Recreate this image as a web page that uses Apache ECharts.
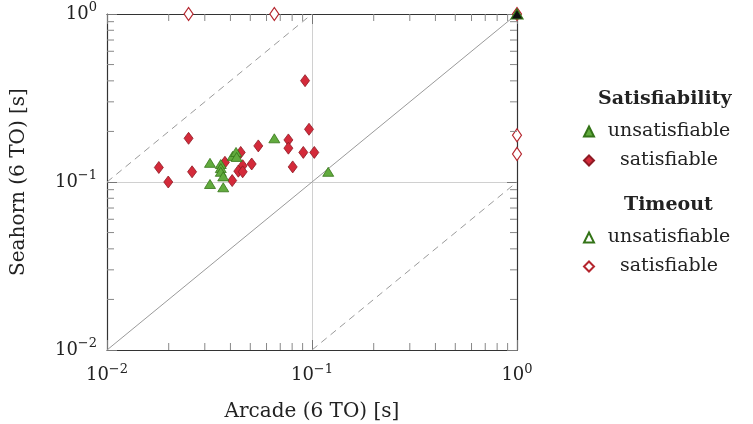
<!DOCTYPE html>
<html>
<head>
<meta charset="utf-8">
<script src="https://cdn.jsdelivr.net/npm/echarts@6/dist/echarts.min.js"></script>
<style>
html, body { margin: 0; padding: 0; background: #fff; }
#chart { width: 753px; height: 424px; }
</style>
</head>
<body>
<div id="chart"></div>
<script>
// solved instances
var unsatX = [0.0655, 0.0318, 0.0359, 0.0359, 0.0359, 0.0369, 0.0318, 0.0369, 0.0410, 0.0426, 0.0429, 0.120];
var unsatY = [0.182, 0.130, 0.128, 0.121, 0.115, 0.108, 0.0973, 0.093, 0.143, 0.151, 0.141, 0.115];
var satX = [0.0250, 0.0925, 0.0967, 0.0767, 0.0767, 0.0907, 0.1026, 0.0805, 0.0547, 0.0508, 0.0449, 0.0459, 0.0437, 0.0459, 0.0376, 0.0408, 0.0179, 0.0199, 0.0260];
var satY = [0.182, 0.401, 0.206, 0.178, 0.159, 0.150, 0.150, 0.123, 0.164, 0.128, 0.150, 0.125, 0.116, 0.115, 0.131, 0.102, 0.122, 0.100, 0.115];
// timeouts
var toSatX = [0.0250, 0.0655, 1, 1, 1];
var toSatY = [1, 1, 0.190, 0.147, 1];
var toUnsatX = [1];
var toUnsatY = [1];
// reference lines
var diagX = [0.01, 1];
var diagY = [0.01, 1];
var upperX = [0.01, 0.1];
var upperY = [0.1, 1];
var lowerX = [0.1, 1];
var lowerY = [0.01, 0.1];
// minor tick values
var minorTicks = [0.02, 0.03, 0.04, 0.05, 0.06, 0.07, 0.08, 0.09, 0.2, 0.3, 0.4, 0.5, 0.6, 0.7, 0.8, 0.9];
var legendNames = { unsat: 'unsatisfiable', sat: 'satisfiable', unsatTO: 'unsatisfiable', satTO: 'satisfiable' };

var font = 'DejaVu Serif';
var red = '#d42a3a', redDark = '#8e1a24', green = '#62ab3e', greenDark = '#347418';

function zip(xs, ys) {
    return xs.map(function (x, i) { return [x, ys[i]]; });
}

function pow10(v) {
    var e = Math.round(Math.log10(v));
    return '{b|10}{s|' + (e < 0 ? '\u2212' + (-e) : e) + '}';
}

var labelRich = {
    b: { fontSize: 18, fontFamily: font, color: '#222' },
    s: { fontSize: 13, fontFamily: font, color: '#222', padding: [0, 0, 12, 0] }
};

function logAxis(pos, main) {
    return {
        type: 'log', logBase: 10, min: 0.01, max: 1, position: pos,
        axisLine: { show: true, lineStyle: { color: '#333', width: 1.2 } },
        axisTick: { show: true, inside: true, length: 10, lineStyle: { color: '#777' } },
        axisLabel: { show: main, formatter: pow10, rich: labelRich, margin: 10 },
        splitLine: { show: main, lineStyle: { color: '#d0d0d0', width: 1 } }
    };
}

var xMain = logAxis('bottom', true);
xMain.name = 'Arcade (6 TO) [s]';
xMain.nameLocation = 'middle';
xMain.nameGap = 52;
xMain.nameTextStyle = { fontSize: 20, fontFamily: font, color: '#222' };
xMain.axisLabel.margin = 13;
var yMain = logAxis('left', true);
yMain.name = 'Seahorn (6 TO) [s]';
yMain.nameLocation = 'middle';
yMain.nameGap = 78;
yMain.nameTextStyle = { fontSize: 20, fontFamily: font, color: '#222' };

function refLine(xs, ys, type) {
    return {
        type: 'line', data: zip(xs, ys), symbol: 'none', silent: true, z: 1,
        lineStyle: { color: '#9a9a9a', width: 1, type: type }
    };
}

var legendText = { rich: { c: { width: 140, align: 'center', fontSize: 19, lineHeight: 20, fontFamily: font, color: '#222' } } };
function legendFmt(n) { return '{c|' + legendNames[n] + '}'; }

var titles = [
    { type: 'text', left: 598, top: 90, style: { text: 'Satisfiability', font: 'bold 19px "DejaVu Serif"', fill: '#222' } },
    { type: 'text', left: 624, top: 196, style: { text: 'Timeout', font: 'bold 19px "DejaVu Serif"', fill: '#222' } }
];

var myChart = echarts.init(document.getElementById('chart'));

myChart.setOption({
    animation: false,
    grid: { left: 107, top: 14, right: 236, bottom: 74, outerBoundsMode: 'none', containLabel: false },
    xAxis: [xMain, logAxis('top', false)],
    yAxis: [yMain, logAxis('right', false)],
    graphic: titles,
    legend: [{
        data: ['unsat', 'sat'], orient: 'vertical', left: 583, top: 122, padding: 0,
        itemWidth: 10, itemHeight: 10, itemGap: 10, selectedMode: false,
        formatter: legendFmt, textStyle: legendText
    }, {
        data: ['unsatTO', 'satTO'], orient: 'vertical', left: 583, top: 228, padding: 0,
        itemWidth: 10, itemHeight: 10, itemGap: 10, selectedMode: false,
        formatter: legendFmt, textStyle: legendText
    }],
    series: [
        refLine(diagX, diagY, 'solid'),
        refLine(upperX, upperY, [7, 5]),
        refLine(lowerX, lowerY, [7, 5]),
        {
            name: 'satTO', type: 'scatter', data: zip(toSatX, toSatY), symbol: 'diamond', symbolSize: [9, 13],
            clip: false, z: 3, itemStyle: { color: '#fff', borderColor: '#b5262e', borderWidth: 1.2, opacity: 1 }
        },
        {
            name: 'unsatTO', type: 'scatter', data: zip(toUnsatX, toUnsatY).map(function (p) {
                return { value: p, itemStyle: { color: '#111' } };
            }), symbol: 'triangle', symbolSize: [12, 10],
            clip: false, z: 4, itemStyle: { color: '#fff', borderColor: greenDark, borderWidth: 1.2, opacity: 1 }
        },
        {
            name: 'sat', type: 'scatter', data: zip(satX, satY), symbol: 'diamond', symbolSize: [9, 12],
            clip: false, z: 3, itemStyle: { color: red, borderColor: redDark, borderWidth: 0.8, opacity: 1 }
        },
        {
            name: 'unsat', type: 'scatter', data: zip(unsatX, unsatY), symbol: 'triangle', symbolSize: [11, 9],
            clip: false, z: 3, itemStyle: { color: green, borderColor: greenDark, borderWidth: 0.8, opacity: 1 }
        }
    ]
});

// minor ticks on all four sides, placed through the axes' own scales
var x0 = myChart.convertToPixel({ xAxisIndex: 0 }, 0.01);
var x1 = myChart.convertToPixel({ xAxisIndex: 0 }, 1);
var y0 = myChart.convertToPixel({ yAxisIndex: 0 }, 0.01);
var y1 = myChart.convertToPixel({ yAxisIndex: 0 }, 1);
var tickLen = 7;
var ticks = [];
minorTicks.forEach(function (v) {
    var px = myChart.convertToPixel({ xAxisIndex: 0 }, v);
    var py = myChart.convertToPixel({ yAxisIndex: 0 }, v);
    var st = { stroke: '#888', lineWidth: 1 };
    ticks.push({ type: 'line', silent: true, z: 5, shape: { x1: px, y1: y0, x2: px, y2: y0 - tickLen }, style: st });
    ticks.push({ type: 'line', silent: true, z: 5, shape: { x1: px, y1: y1, x2: px, y2: y1 + tickLen }, style: st });
    ticks.push({ type: 'line', silent: true, z: 5, shape: { x1: x0, y1: py, x2: x0 + tickLen, y2: py }, style: st });
    ticks.push({ type: 'line', silent: true, z: 5, shape: { x1: x1, y1: py, x2: x1 - tickLen, y2: py }, style: st });
});
myChart.setOption({
    graphic: titles.concat([{ type: 'group', children: ticks }])
});
</script>
</body>
</html>
